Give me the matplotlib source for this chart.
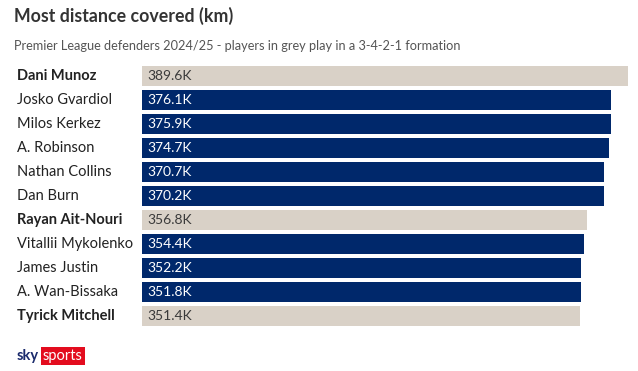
import matplotlib
matplotlib.use('Agg')
import matplotlib.pyplot as plt
from matplotlib import font_manager

players = ['Dani Munoz', 'Josko Gvardiol', 'Milos Kerkez', 'A. Robinson',
           'Nathan Collins', 'Dan Burn', 'Rayan Ait-Nouri', 'Vitallii Mykolenko',
           'James Justin', 'A. Wan-Bissaka', 'Tyrick Mitchell']
distance = [389.6, 376.1, 375.9, 374.7, 370.7, 370.2, 356.8, 354.4, 352.2, 351.8, 351.4]
grey_formation = [True, False, False, False, False, False, True, False, False, False, True]

NAVY = '#00286b'
BEIGE = '#d9d1c7'
W, H = 638, 371
plt.rcParams['font.family'] = ['Lato', 'DejaVu Sans']
names = {f.name for f in font_manager.fontManager.ttflist}
SUB_FONT = 'Liberation Sans Narrow' if 'Liberation Sans Narrow' in names else 'Lato'
SUB_SIZE = 10.2 if SUB_FONT != 'Lato' else 9.2

fig = plt.figure(figsize=(W / 100, H / 100), dpi=100)
fig.patch.set_facecolor('white')

# axes in pixel coordinates
left, right, top, bottom = 142, 632, 64, 328
ax = fig.add_axes([left / W, 1 - bottom / H, (right - left) / W, (bottom - top) / H])
ax.set_xlim(0, (right - left) / 1.247)
ax.set_ylim(len(players) - 0.5, -0.5)
ax.axis('off')

for i, (name, val, grey) in enumerate(zip(players, distance, grey_formation)):
    ax.barh(i, val, height=0.83, color=BEIGE if grey else NAVY)
    ax.text(4, i, f'{val:.1f}K', va='center', ha='left', fontsize=10,
            color='#3a3a3a' if grey else 'white')
    fig.text(17 / W, 1 - (76 + 24 * i) / H, name, va='center', ha='left', fontsize=10.5,
             color='#222222', fontweight='bold' if grey else 'normal')

fig.text(14 / W, 1 - 16 / H, 'Most distance covered (km)', fontsize=12.8, fontweight='bold',
         color='#333333', va='center', ha='left')
fig.text(14 / W, 1 - 46 / H,
         'Premier League defenders 2024/25 - players in grey play in a 3-4-2-1 formation',
         fontsize=SUB_SIZE, color='#555555', va='center', ha='left', family=SUB_FONT)

# sky sports logo
fig.text(17 / W, 1 - 356 / H, 'sky', fontsize=10.5, fontweight='bold', color='#1a2a6c',
         va='center', ha='left')
fig.text(43 / W, 1 - 356 / H, 'sports', fontsize=10.5, color='white', va='center', ha='left',
         bbox=dict(boxstyle='square,pad=0.15', facecolor='#e30c1e', edgecolor='none'))

fig.savefig('out.png', dpi=100)
